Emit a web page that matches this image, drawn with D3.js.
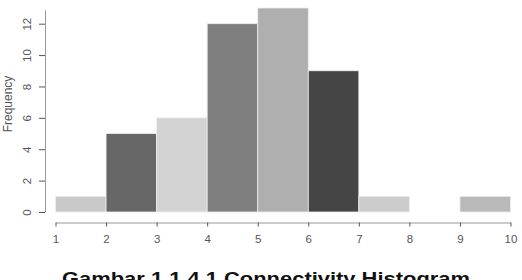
<!DOCTYPE html>
<html>
<head>
<meta charset="utf-8">
<script src="https://cdn.jsdelivr.net/npm/d3@7"></script>
<style>
  body { margin: 0; background: #fff; }
  svg { display: block; font-family: "Liberation Sans", Arial, sans-serif; }
</style>
</head>
<body>
<div id="canvas"></div>
<script>
// histogram bins (breaks) and counts
const breaks = [1, 2, 3, 4, 5, 6, 7, 8, 9, 10];
const counts = [1, 5, 6, 12, 13, 9, 1, 0, 1];
const barColors = ["#c9c9c9", "#676767", "#d3d3d3", "#7f7f7f", "#afafaf", "#454545", "#cccccc", "#cccccc", "#b9b9b9"];
const yTicks = [0, 2, 4, 6, 8, 10, 12];
const caption = "Gambar 1.1.4.1 Connectivity Histogram";

const width = 522;
const height = 280;

const svg = d3.select("#canvas").append("svg")
  .attr("width", width)
  .attr("height", height);

const x = d3.scaleLinear().domain([1, 10]).range([55.5, 510.5]);
const y = d3.scaleLinear().domain([0, 13]).range([212, 8]);

const bins = counts.map((c, i) => ({ x0: breaks[i], x1: breaks[i + 1], n: c, color: barColors[i] }));

svg.append("g")
  .selectAll("rect")
  .data(bins.filter(d => d.n > 0))
  .enter()
  .append("rect")
  .attr("x", d => x(d.x0))
  .attr("y", d => y(d.n))
  .attr("width", d => x(d.x1) - x(d.x0))
  .attr("height", d => y(0) - y(d.n))
  .style("fill", d => d.color)
  .style("stroke", "#eeeeee")
  .style("stroke-width", 0.8);

// x axis
const gx = svg.append("g")
  .attr("transform", "translate(0,222.5)")
  .call(d3.axisBottom(x).tickValues(breaks).tickFormat(d3.format("d")).tickSize(4).tickSizeOuter(0));
gx.select(".domain").attr("stroke", "#999");
gx.selectAll(".tick line").attr("stroke", "#555");
gx.selectAll(".tick text").attr("fill", "#555").style("font-size", "11.5px").attr("dy", "1.15em");

// y axis
const gy = svg.append("g")
  .attr("transform", "translate(45,0)")
  .call(d3.axisLeft(y).tickValues(yTicks).tickSize(6).tickSizeOuter(0));
gy.select(".domain").attr("d", `M0.5,${y(0)}V${y(12.85)}`).attr("stroke", "#999");
gy.selectAll(".tick line").attr("stroke", "#555");
gy.selectAll(".tick text")
  .attr("fill", "#555")
  .style("font-size", "11.5px")
  .attr("x", null)
  .attr("dy", null)
  .attr("text-anchor", "middle")
  .attr("transform", "translate(-18,0) rotate(-90)")
  .attr("dominant-baseline", "central");

svg.append("text")
  .attr("transform", `translate(8,${(y(0) + y(13)) / 2 - 6}) rotate(-90)`)
  .attr("text-anchor", "middle")
  .attr("dominant-baseline", "central")
  .style("font-size", "12px")
  .attr("fill", "#555")
  .text("Frequency");

svg.append("text")
  .attr("x", 62)
  .attr("y", 285)
  .attr("textLength", 408)
  .attr("lengthAdjust", "spacingAndGlyphs")
  .style("font-size", "19px")
  .style("font-weight", "bold")
  .attr("fill", "#111")
  .text(caption);
</script>
</body>
</html>
